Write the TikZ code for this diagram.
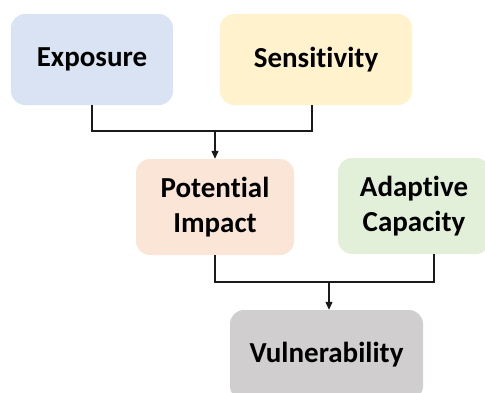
\documentclass[tikz,border=0pt]{standalone}
\usepackage{fontspec}
\setmainfont{Carlito}[Ligatures={NoCommon}]
\usetikzlibrary{arrows.meta,calc}
\definecolor{cexpo}{HTML}{DAE3F3}
\definecolor{csens}{HTML}{FFF2CC}
\definecolor{cpot}{HTML}{FBE5D6}
\definecolor{cadapt}{HTML}{E2F0D9}
\definecolor{cvuln}{HTML}{D0CECE}
\definecolor{cline}{HTML}{1A1A1A}
\begin{document}
\begin{tikzpicture}[x=1pt,y=-1pt,
  box/.style={rounded corners=14pt, inner sep=0pt, align=center,
    font=\fontsize{29}{35}\selectfont\bfseries, text=black},
  conn/.style={draw=cline, line width=1.2pt},
  arr/.style={conn, -{Triangle[length=8pt,width=7pt]}}]
\useasboundingbox (0,0) rectangle (485,392);
\clip (0,0) rectangle (485,392);
\node[box, fill=cexpo, minimum width=162pt, minimum height=91pt] (expo) at (92,59.5) {Exposure};
\node[box, fill=csens, minimum width=192pt, minimum height=91pt] (sens) at (316,59.5) {Sensitivity};
\node[box, fill=cpot, minimum width=158pt, minimum height=96pt] (pot) at (215,207) {Potential\\Impact};
\node[box, fill=cadapt, minimum width=152pt, minimum height=96pt] (adapt) at (414,206) {Adaptive\\Capacity};
\node[box, fill=cvuln, minimum width=193pt, minimum height=90pt] (vuln) at (326.5,355) {Vulnerability};
\coordinate (s1) at ($(sens.south)+(-4,0)$);
\coordinate (j1) at (215,131);
\coordinate (a1) at ($(adapt.south)+(20,0)$);
\coordinate (j2) at (329,282);
\draw[conn] (expo.south) |- (j1) -| (s1);
\draw[arr] (j1) -- (pot.north);
\draw[conn] (pot.south) |- (j2) -| (a1);
\draw[arr] (j2) -- (j2 |- vuln.north);
\end{tikzpicture}
\end{document}
